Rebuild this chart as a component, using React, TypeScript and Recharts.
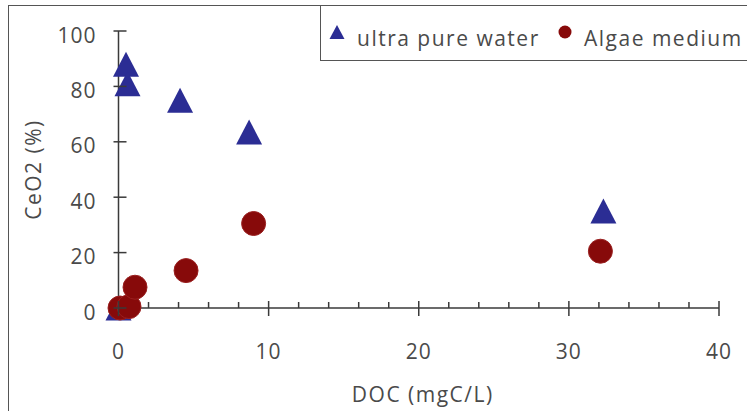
import React from 'react';
import { ScatterChart, Scatter, XAxis, YAxis, Legend } from 'recharts';

const waterX = [0, 0.5, 0.6, 4.1, 8.7, 32.3];
const waterY = [0, 88, 81, 75, 63.5, 35];
const algaeX = [0.1, 0.7, 1.1, 4.5, 9.0, 32.1];
const algaeY = [0, 0.5, 7.5, 13.5, 30.5, 20.5];
const xTicks = [0, 2, 4, 6, 8, 10, 12, 14, 16, 18, 20, 22, 24, 26, 28, 30, 32, 34, 36, 38, 40];
const xMajorTicks = [0, 10, 20, 30, 40];
const yTicks = [0, 20, 40, 60, 80, 100];
const seriesNames = ['ultra pure water', 'Algae medium'];
const xLabel = 'DOC (mgC/L)';
const yLabel = 'CeO2 (%)';

const BLUE = '#2B2D94';
const RED = '#870A0A';
const AXIS = '#3a3a3a';
const TEXT = '#4a4a4a';
const FONT = "'Open Sans', sans-serif";

const waterData = waterX.map((x, i) => ({ x, y: waterY[i] }));
const algaeData = algaeX.map((x, i) => ({ x, y: algaeY[i] }));

const Triangle = (props: any) => {
  const { cx, cy } = props;
  const w = 26;
  const h = 25;
  return (
    <polygon
      points={`${cx - w / 2},${cy + h / 2} ${cx + w / 2},${cy + h / 2} ${cx},${cy - h / 2}`}
      fill={BLUE}
    />
  );
};

const Dot = (props: any) => {
  const { cx, cy } = props;
  return <circle cx={cx} cy={cy} r={12} fill={RED} stroke="#9a2020" strokeWidth={1} />;
};

const YTick = (props: any) => {
  const { x, y, payload } = props;
  return (
    <g>
      <line x1={x - 5} x2={x + 8} y1={y} y2={y} stroke={AXIS} strokeWidth={1.5} />
      <text x={x - 22} y={y + 11.5} textAnchor="end" fill={TEXT} fontSize={21} fontFamily={FONT} letterSpacing={1}>
        {payload.value}
      </text>
    </g>
  );
};

const XTick = (props: any) => {
  const { x, y, payload } = props;
  const major = xMajorTicks.includes(payload.value);
  return (
    <g>
      <line x1={x} x2={x} y1={major ? y - 7 : y - 6} y2={major ? y + 8 : y} stroke={AXIS} strokeWidth={1.5} />
      {major && (
        <text x={x} y={y + 51} textAnchor="middle" fill={TEXT} fontSize={21} fontFamily={FONT} letterSpacing={1}>
          {payload.value}
        </text>
      )}
    </g>
  );
};

const XLabel = (props: any) => {
  const { viewBox } = props;
  const cx = viewBox.x + viewBox.width / 2 + 4;
  return (
    <text x={cx} y={viewBox.y + 94} textAnchor="middle" fill={TEXT} fontSize={21} fontFamily={FONT} letterSpacing={1.5}>
      {xLabel}
    </text>
  );
};

const YLabel = (props: any) => {
  const { viewBox } = props;
  const cy = viewBox.y + viewBox.height / 2;
  const cx = 33;
  return (
    <text
      x={cx}
      y={cy}
      transform={`rotate(-90 ${cx} ${cy})`}
      textAnchor="middle"
      dominantBaseline="central"
      fill={TEXT}
      fontSize={21}
      fontFamily={FONT}
      letterSpacing={1.5}
    >
      {yLabel}
    </text>
  );
};

const LegendContent = () => {
  return (
    <div
      style={{
        width: 440,
        height: 56,
        border: '1.5px solid #555',
        boxSizing: 'border-box',
        background: '#fff',
      }}
    >
      <svg width={440} height={56} style={{ display: 'block' }}>
        <polygon points="8.5,33 23.5,33 16,19" fill={BLUE} />
        <text x={36} y={40} fill={TEXT} fontSize={21} fontFamily={FONT} letterSpacing={1.5}>
          {seriesNames[0]}
        </text>
        <circle cx={244} cy={26} r={6.5} fill={RED} />
        <text x={263} y={40} fill={TEXT} fontSize={21} fontFamily={FONT} letterSpacing={1.5}>
          {seriesNames[1]}
        </text>
      </svg>
    </div>
  );
};

export default function App() {
  return (
    <div
      style={{
        position: 'absolute',
        left: 0,
        top: 0,
        width: 747,
        height: 411,
        overflow: 'hidden',
        background: '#fff',
      }}
    >
      <div
        style={{
          position: 'absolute',
          left: 8,
          top: 5,
          width: 800,
          height: 500,
          border: '1.5px solid #555',
        }}
      />
      <ScatterChart width={747} height={411} margin={{ top: 31, right: 28, bottom: 0, left: 0 }}>
        <XAxis
          type="number"
          dataKey="x"
          domain={[0, 40]}
          ticks={xTicks}
          interval={0}
          height={103}
          tickSize={0}
          tickMargin={0}
          tickLine={false}
          tick={<XTick />}
          axisLine={{ stroke: AXIS, strokeWidth: 1.5 }}
          label={<XLabel />}
        />
        <YAxis
          type="number"
          dataKey="y"
          domain={[0, 100]}
          ticks={yTicks}
          interval={0}
          width={118.5}
          tickSize={0}
          tickMargin={0}
          tickLine={false}
          tick={<YTick />}
          axisLine={{ stroke: AXIS, strokeWidth: 1.5 }}
          label={<YLabel />}
        />
        <Legend
          layout="vertical"
          align="center"
          verticalAlign="middle"
          wrapperStyle={{ left: 320, top: 5, width: 440, height: 56 }}
          content={<LegendContent />}
        />
        <Scatter name={seriesNames[0]} data={waterData} fill={BLUE} shape={<Triangle />} isAnimationActive={false} />
        <Scatter name={seriesNames[1]} data={algaeData} fill={RED} shape={<Dot />} isAnimationActive={false} />
      </ScatterChart>
    </div>
  );
}
